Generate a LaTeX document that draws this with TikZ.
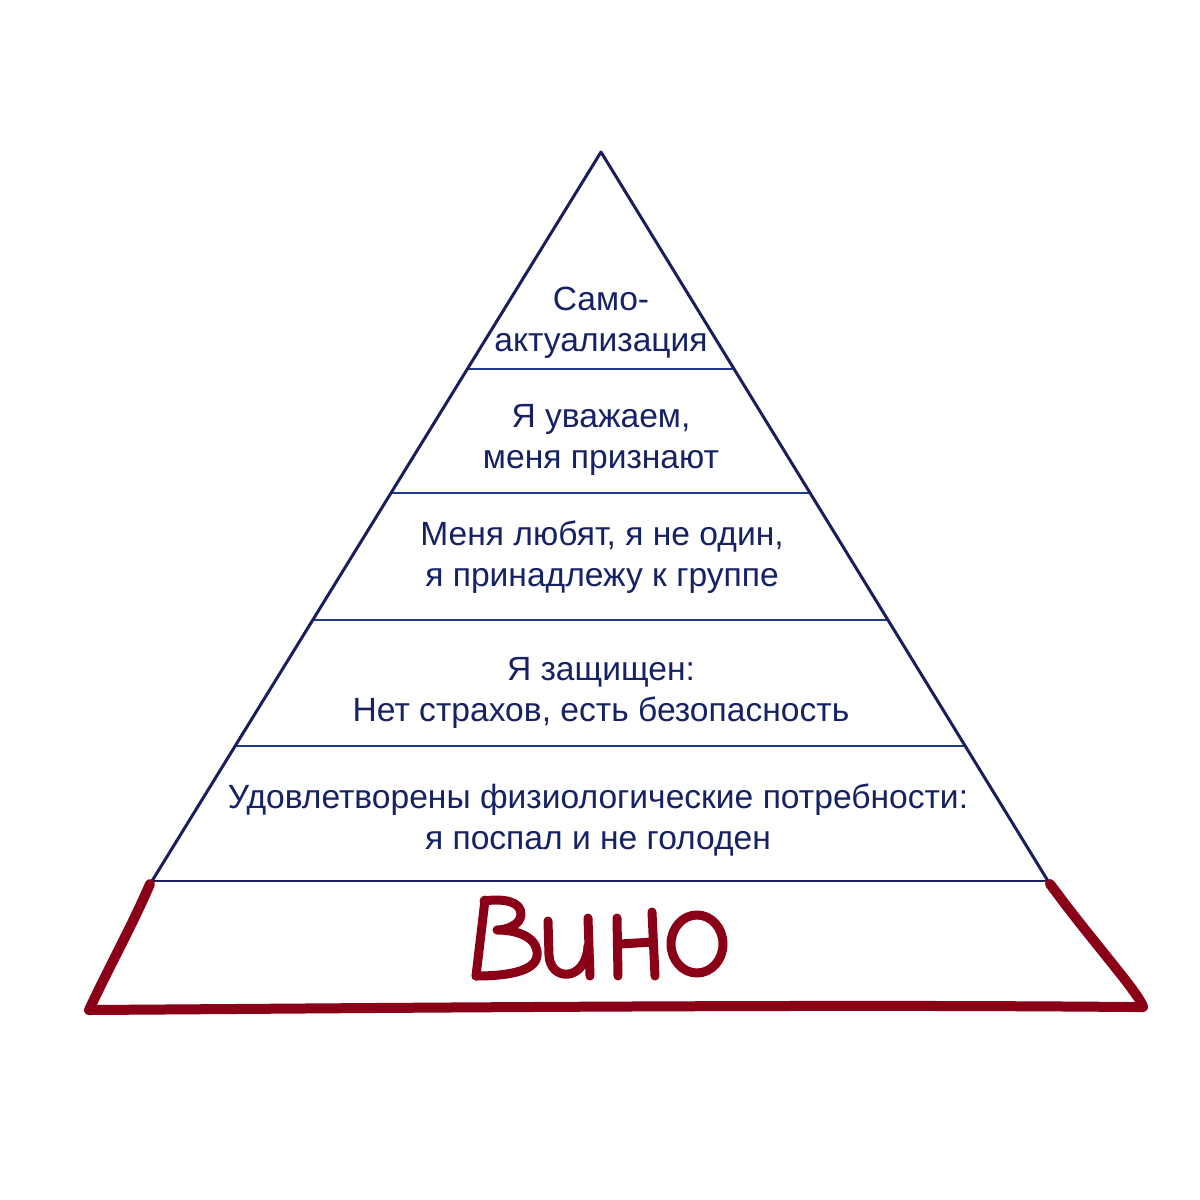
\documentclass[tikz,border=0pt]{standalone}
\usepackage{fontspec}
\setmainfont{Liberation Sans}
\usetikzlibrary{calc}
\definecolor{edgec}{RGB}{28,29,92}
\definecolor{tierc}{RGB}{32,58,138}
\definecolor{textc}{RGB}{22,34,100}
\definecolor{winec}{RGB}{138,0,22}
\tikzset{
  pedge/.style={draw=edgec, line width=3pt, line cap=round, line join=round},
  tierline/.style={draw=tierc, line width=2.4pt},
  baseline/.style={draw=edgec, line width=2.6pt},
  tiertext/.style={text=textc, align=center, font=\fontsize{33.6}{41}\selectfont, inner sep=0pt},
  redstroke/.style={draw=winec, line width=10pt, line cap=round, line join=round},
  letter/.style={draw=winec, line width=9pt, line cap=round, line join=round}
}
\begin{document}
\begin{tikzpicture}[x=1pt, y=-1pt]
\useasboundingbox (0,0) rectangle (1200,1200);
\fill[white] (0,0) rectangle (1200,1200);
\coordinate (A) at (601,152);
\coordinate (L) at (152,881);
\coordinate (R) at (1048,881);
% tier lines
\foreach \t/\n in {0.2977/a,0.4678/b,0.6420/c,0.8148/d}{
  \coordinate (l\n) at ($(A)!\t!(L)$);
  \coordinate (r\n) at ($(A)!\t!(R)$);
}
\draw[tierline] (la) -- (ra);
\draw[tierline] (lb) -- (rb);
\draw[tierline] (lc) -- (rc);
\draw[tierline] (ld) -- (rd);
\draw[baseline] (L) -- (R);
\draw[pedge] (L) -- (A) -- (R);
% texts
\node[tiertext] (t1) at (601,323) {Само-\\актуализация};
\node[tiertext] (t2) at (601,440) {Я уважаем,\\меня признают};
\node[tiertext] (t3) at (602,557) {Меня любят, я не один,\\я принадлежу к группе};
\node[tiertext] (t4) at (601,693) {Я защищен:\\Нет страхов, есть безопасность};
\node[tiertext] (t5) at (598,820) {Удовлетворены физиологические потребности:\\я поспал и не голоден};
% red trapezoid
\coordinate (RL) at (150,884);
\coordinate (RBL) at (89,1010);
\coordinate (RBR) at (1143,1007);
\coordinate (RR) at (1050,884);
\draw[redstroke] (RL) .. controls (130,930) and (110,965) .. (RBL)
  .. controls (400,1008) and (800,1004) .. (1130,1007) -- (RBR)
  .. controls (1140,995) and (1100,950) .. (1062,900) -- (RR);
% Вино
\draw[letter] (485,900) -- (476,976);
\draw[letter] (484,901) .. controls (505,898) and (521,902) .. (521,914)
  .. controls (521,925) and (506,930) .. (497,930)
  .. controls (522,930) and (539,940) .. (537,956)
  .. controls (535,972) and (505,976) .. (476,976);
\draw[letter] (548,921) -- (549,955) .. controls (550,982) and (586,982) .. (588,946);
\draw[letter] (588,918) -- (590,976);
\draw[letter] (617,918) -- (618,976);
\draw[letter] (620,944) -- (653,942);
\draw[letter] (652,912) -- (655,976);
\draw[letter] (697,944) ellipse [x radius=26, y radius=29];
\end{tikzpicture}
\end{document}
